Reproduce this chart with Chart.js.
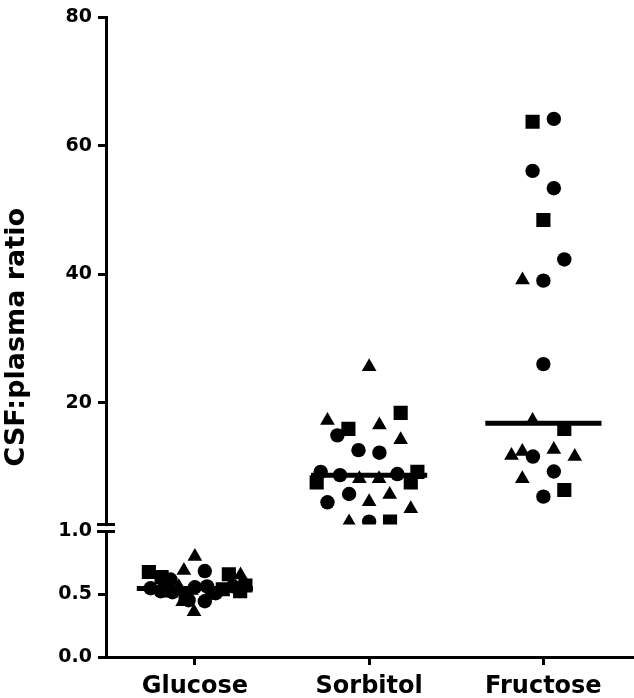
<!DOCTYPE html>
<html>
<head>
<meta charset="utf-8">
<script src="https://cdn.jsdelivr.net/npm/chart.js"></script>
<style>
  body { margin: 0; background: #fff; }
</style>
</head>
<body>
<canvas id="ratioPlot" width="634" height="698"></canvas>
<script>
const categories = ['Glucose', 'Sorbitol', 'Fructose']
const medians = [0.545, 8.7, 16.8]
const lowTicks = [0, 0.5, 1.0]
const highTicks = [20, 40, 60, 80]

// points are [x position, CSF:plasma ratio]
const glucoseSquares = [[0.736, 0.677], [0.809, 0.637], [1.195, 0.659], [0.83, 0.53], [0.947, 0.48], [1.16, 0.54], [1.26, 0.524], [1.29, 0.57]]
const glucoseCircles = [[1.057, 0.685], [0.86, 0.617], [0.746, 0.548], [0.804, 0.524], [0.872, 0.516], [1.0, 0.556], [1.07, 0.563], [1.12, 0.508], [1.22, 0.563], [0.964, 0.452], [1.057, 0.444]]
const glucoseTriangles = [[1.0, 0.80], [0.937, 0.69], [1.262, 0.653], [0.908, 0.56], [0.98, 0.53], [1.08, 0.49], [0.93, 0.44], [0.995, 0.36]]

const sorbitolSquares = [[2.181, 18.4], [1.881, 15.9], [1.699, 7.57], [2.277, 9.22], [2.239, 7.57], [2.12, 1.47]]
const sorbitolCircles = [[1.818, 14.9], [1.939, 12.6], [2.059, 12.2], [1.722, 9.22], [1.833, 8.71], [2.162, 8.87], [1.885, 5.77], [1.761, 4.47], [2.0, 1.47]]
const sorbitolTriangles = [[2.0, 25.6], [1.761, 17.2], [2.059, 16.5], [2.181, 14.2], [1.944, 8.14], [2.057, 8.14], [2.118, 5.7], [2.0, 4.54], [2.239, 3.45], [1.885, 1.42]]

const fructoseSquares = [[2.938, 63.75], [3.0, 48.45], [3.12, 15.9], [3.12, 6.39]]
const fructoseCircles = [[3.06, 64.2], [2.938, 56.1], [3.06, 53.4], [3.12, 42.3], [3.0, 39.0], [3.0, 26.0], [2.94, 11.6], [3.06, 9.27], [3.0, 5.35]]
const fructoseTriangles = [[2.88, 39.1], [2.938, 17.2], [2.817, 11.75], [2.879, 12.4], [3.06, 12.7], [3.18, 11.6], [2.879, 8.14]]

const markerStyles = {
    rect: { pointStyle: 'rect', pointRadius: 10 },
    circle: { pointStyle: 'circle', pointRadius: 7.2 },
    triangle: { pointStyle: 'triangle', pointRadius: 8.5 }
}

const pointSet = (arr, style, axis) => ({
    data: arr.map(([x, y]) => ({ x, y })),
    yAxisID: axis,
    ...markerStyles[style],
    pointHoverRadius: markerStyles[style].pointRadius,
    backgroundColor: '#000',
    borderColor: '#000',
    pointBorderWidth: 0
})

const medianLines = medians.map((m, i) => ({
    data: [{ x: i + 1 - 1 / 3, y: m }, { x: i + 1 + 1 / 3, y: m }],
    yAxisID: i === 0 ? 'y' : 'y2',
    showLine: true,
    borderColor: '#000',
    borderWidth: 5,
    pointRadius: 0,
    pointHoverRadius: 0
}))

const tickFont = { family: 'DejaVu Sans', weight: 'bold', size: 19 }
const axisLook = {
    grid: { drawOnChartArea: false, drawTicks: true, tickLength: 8, tickWidth: 3, tickColor: '#000' },
    border: { display: true, color: '#000', width: 3 }
}
const fitY = s => { s.width = 52 }

// axis break marks and the shared y title
const axisExtras = {
    id: 'axisExtras',
    afterDraw(chart) {
        const { ctx, chartArea, scales: { y, y2 } } = chart
        const ax = chartArea.left
        const top = y2.bottom
        const bottom = y.getPixelForValue(1)
        ctx.save()
        ctx.fillStyle = '#fff'
        ctx.fillRect(ax - 3, top + 1.5, 6, bottom - top - 3)
        ctx.strokeStyle = '#000'
        ctx.lineWidth = 3
        ctx.beginPath()
        ;[top, bottom].forEach(py => { ctx.moveTo(ax - 9, py); ctx.lineTo(ax + 9, py) })
        ctx.stroke()
        ctx.translate(17, (chartArea.top + chartArea.bottom) / 2)
        ctx.rotate(-Math.PI / 2)
        ctx.font = 'bold 27px "DejaVu Sans"'
        ctx.fillStyle = '#000'
        ctx.textAlign = 'center'
        ctx.textBaseline = 'middle'
        ctx.fillText('CSF:plasma ratio', 0, 0)
        ctx.restore()
    }
}

new Chart(document.getElementById('ratioPlot'), {
    type: 'scatter',
    data: {
        datasets: [
            ...medianLines,
            pointSet(glucoseSquares, 'rect', 'y'),
            pointSet(glucoseCircles, 'circle', 'y'),
            pointSet(glucoseTriangles, 'triangle', 'y'),
            pointSet(sorbitolSquares, 'rect', 'y2'),
            pointSet(sorbitolCircles, 'circle', 'y2'),
            pointSet(sorbitolTriangles, 'triangle', 'y2'),
            pointSet(fructoseSquares, 'rect', 'y2'),
            pointSet(fructoseCircles, 'circle', 'y2'),
            pointSet(fructoseTriangles, 'triangle', 'y2')
        ]
    },
    options: {
        responsive: false,
        devicePixelRatio: 1,
        animation: false,
        layout: { autoPadding: false, padding: { left: 54, top: 14.5, right: 0, bottom: 0 } },
        plugins: { legend: { display: false }, tooltip: { enabled: false } },
        scales: {
            x: {
                type: 'linear',
                min: 0.49,
                max: 3.52,
                afterBuildTicks: s => { s.ticks = [1, 2, 3].map(v => ({ value: v })) },
                afterFit: s => { s.height = 41; s.paddingLeft = 0; s.paddingRight = 0 },
                ticks: {
                    callback: v => categories[v - 1],
                    color: '#000',
                    padding: 8,
                    font: { family: 'DejaVu Sans', weight: 'bold', size: 24, lineHeight: 1.15 }
                },
                ...axisLook
            },
            y: {
                type: 'linear',
                position: 'left',
                stack: 'ratio',
                stackWeight: 133,
                min: 0,
                max: 1.055,
                afterBuildTicks: s => { s.ticks = lowTicks.map(v => ({ value: v })) },
                afterFit: fitY,
                ticks: { callback: v => v.toFixed(1), color: '#000', padding: 6, font: tickFont },
                ...axisLook
            },
            y2: {
                type: 'linear',
                position: 'left',
                stack: 'ratio',
                stackWeight: 509.5,
                min: 1,
                max: 80,
                afterBuildTicks: s => { s.ticks = highTicks.map(v => ({ value: v })) },
                afterFit: fitY,
                ticks: { callback: v => String(v), color: '#000', padding: 6, font: tickFont },
                ...axisLook
            }
        }
    },
    plugins: [axisExtras]
})
</script>
</body>
</html>
